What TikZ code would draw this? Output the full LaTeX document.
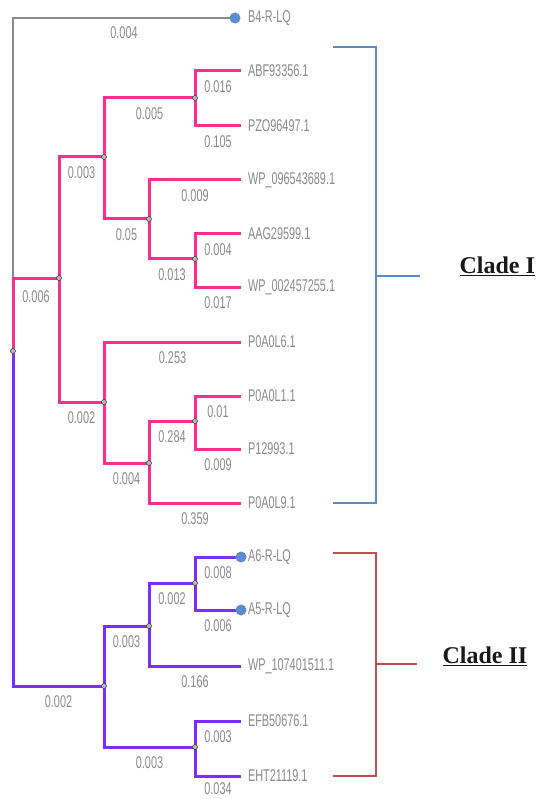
\documentclass[tikz,border=0pt]{standalone}
\usepackage{fontspec}
\newfontfamily\treefont[FakeStretch=0.64]{Liberation Sans}
\newfontfamily\cladefont{Liberation Serif}
\definecolor{pinkline}{HTML}{FF2E8E}
\definecolor{purpleline}{HTML}{7B2CFF}
\definecolor{rootgray}{HTML}{8A8A8A}
\definecolor{labelgray}{HTML}{8A8A8A}
\definecolor{tipblue}{HTML}{5B8BD0}
\definecolor{bracketblue}{HTML}{5B8DC9}
\definecolor{bracketred}{HTML}{C0504D}
\begin{document}
\begin{tikzpicture}[x=1pt,y=-1pt,
  cladeone/.style={line width=3pt, color=pinkline},
  cladetwo/.style={line width=3pt, color=purpleline},
  outgroup/.style={line width=1.5pt, color=rootgray},
  leaf/.style={anchor=west, inner xsep=7pt, inner ysep=0pt, outer sep=0pt,
    font=\treefont\fontsize{17}{17}\selectfont, text=labelgray},
  blen/.style={pos=0.75, anchor=north, inner sep=0pt, yshift=-8pt,
    font=\treefont\fontsize{17}{17}\selectfont, text=labelgray},
  innerdot/.style={circle, fill=gray!55, draw=black!75, line width=0.6pt,
    inner sep=0pt, minimum size=5pt},
  tipdot/.style={circle, fill=tipblue, inner sep=0pt, minimum size=11pt},
  bracket/.style={line width=2.5pt},
  cladelabel/.style={font=\cladefont\bfseries\fontsize{24}{24}\selectfont, text=black!90}]
\useasboundingbox (0,0) rectangle (538,799);

% internal nodes
\coordinate (r)   at (13,351);
\coordinate (j)   at (13,278);
\coordinate (n1)  at (59,278);
\coordinate (n2)  at (104,157);
\coordinate (n3)  at (104,402);
\coordinate (n4)  at (195,98);
\coordinate (n5)  at (149,219);
\coordinate (n6)  at (195,259);
\coordinate (n7)  at (149,463);
\coordinate (n8)  at (195,421);
\coordinate (n9)  at (104,686);
\coordinate (n10) at (149,626);
\coordinate (n11) at (195,747);
\coordinate (n12) at (195,583);

% leaves
\node[leaf, inner xsep=13pt] (B4) at (235,18) {B4-R-LQ};
\node[leaf] (ABF)   at (241,71)  {ABF93356.1};
\node[leaf] (PZO)   at (241,126) {PZO96497.1};
\node[leaf] (WP096) at (241,180) {WP\_096543689.1};
\node[leaf] (AAG)   at (241,234) {AAG29599.1};
\node[leaf] (WP002) at (241,287) {WP\_002457255.1};
\node[leaf] (L6)    at (241,342) {P0A0L6.1};
\node[leaf] (L1)    at (241,396) {P0A0L1.1};
\node[leaf] (P12)   at (241,449) {P12993.1};
\node[leaf] (L9)    at (241,503) {P0A0L9.1};
\node[leaf] (A6)    at (241,557) {A6-R-LQ};
\node[leaf] (A5)    at (241,610) {A5-R-LQ};
\node[leaf] (WP107) at (241,666) {WP\_107401511.1};
\node[leaf] (EFB)   at (241,721) {EFB50676.1};
\node[leaf] (EHT)   at (241,776) {EHT21119.1};

% outgroup branch
\draw[outgroup] (j) |- node[blen] {0.004} (B4);

% clade I branches
\draw[cladeone] (r) |- node[blen, yshift=-3pt] {0.006} (n1);
\draw[cladeone] (n1) |- node[blen] {0.003} (n2);
\draw[cladeone] (n1) |- node[blen] {0.002} (n3);
\draw[cladeone] (n2) |- node[blen] {0.005} (n4);
\draw[cladeone] (n2) |- node[blen] {0.05} (n5);
\draw[cladeone] (n4) |- node[blen] {0.016} (ABF);
\draw[cladeone] (n4) |- node[blen] {0.105} (PZO);
\draw[cladeone] (n5) |- node[blen] {0.009} (WP096);
\draw[cladeone] (n5) |- node[blen] {0.013} (n6);
\draw[cladeone] (n6) |- node[blen] {0.004} (AAG);
\draw[cladeone] (n6) |- node[blen] {0.017} (WP002);
\draw[cladeone] (n3) |- node[blen] {0.253} (L6);
\draw[cladeone] (n3) |- node[blen] {0.004} (n7);
\draw[cladeone] (n7) |- node[blen] {0.284} (n8);
\draw[cladeone] (n7) |- node[blen] {0.359} (L9);
\draw[cladeone] (n8) |- node[blen] {0.01} (L1);
\draw[cladeone] (n8) |- node[blen] {0.009} (P12);

% clade II branches
\draw[cladetwo] (r) |- node[blen] {0.002} (n9);
\draw[cladetwo] (n9) |- node[blen] {0.003} (n10);
\draw[cladetwo] (n9) |- node[blen] {0.003} (n11);
\draw[cladetwo] (n10) |- node[blen] {0.002} (n12);
\draw[cladetwo] (n10) |- node[blen] {0.166} (WP107);
\draw[cladetwo] (n12) |- node[blen] {0.008} (A6);
\draw[cladetwo] (n12) |- node[blen] {0.006} (A5);
\draw[cladetwo] (n11) |- node[blen] {0.003} (EFB);
\draw[cladetwo] (n11) |- node[blen, yshift=3pt] {0.034} (EHT);

% node markers
\foreach \n in {r,n1,n2,n3,n4,n5,n6,n7,n8,n9,n10,n11,n12}
  \node[innerdot] at (\n) {};
\node[tipdot] at (B4.west) {};
\node[tipdot] at (A6.west) {};
\node[tipdot] at (A5.west) {};

% clade brackets
\coordinate (b1t) at (333,47);
\coordinate (b1b) at (333,503);
\coordinate (b1m) at (376,276);
\node[cladelabel, anchor=west] (c1) at (456,266) {\underline{Clade I}};
\draw[bracket, bracketblue] (b1t) -- (376,47) -- (376,503) -- (b1b);
\draw[bracket, bracketblue] (b1m) -- (420,276);

\coordinate (b2t) at (333,553);
\coordinate (b2b) at (333,776);
\coordinate (b2m) at (376,664);
\node[cladelabel, anchor=west] (c2) at (439,656) {\underline{Clade II}};
\draw[bracket, bracketred] (b2t) -- (376,553) -- (376,776) -- (b2b);
\draw[bracket, bracketred] (b2m) -- (417,664);
\end{tikzpicture}
\end{document}
